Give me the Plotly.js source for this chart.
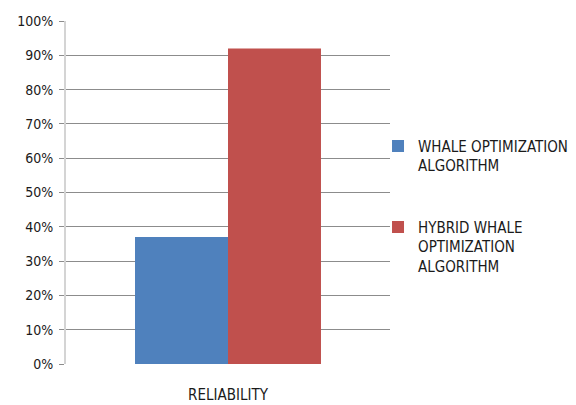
<!DOCTYPE html>
<html>
<head>
<meta charset="utf-8">
<script src="https://cdn.plot.ly/plotly-3.0.1.min.js"></script>
<style>html,body{margin:0;padding:0;background:#fff;}#chart{width:576px;height:405px;}</style>
</head>
<body>
<div id="chart"></div>
<script>
var categories = ["RELIABILITY"];
var seriesNames = ["WHALE OPTIMIZATION<br>ALGORITHM", "HYBRID WHALE<br>OPTIMIZATION<br>ALGORITHM"];
var whaleValues = [0.37];
var hybridValues = [0.92];
var seriesColors = ["#4F81BD", "#C0504D"];
var yTickVals = [0, 0.1, 0.2, 0.3, 0.4, 0.5, 0.6, 0.7, 0.8, 0.9, 1.0];
var yTickText = ["0%", "10%", "20%", "30%", "40%", "50%", "60%", "70%", "80%", "90%", "100%"];

var FONT = "DejaVu Sans Condensed, Liberation Sans Narrow, sans-serif";

var traces = [
  {type: "bar", x: categories, y: whaleValues, name: seriesNames[0], marker: {color: seriesColors[0]}, legendgroup: "a"},
  {type: "bar", x: categories, y: hybridValues, name: seriesNames[1], marker: {color: seriesColors[1]}, legendgroup: "b"}
];

var layout = {
  width: 576, height: 405,
  margin: {l: 66, r: 186, t: 21, b: 41, pad: 0, autoexpand: false},
  paper_bgcolor: "#fff", plot_bgcolor: "#fff",
  font: {family: FONT, color: "#1a1a1a", size: 15},
  barmode: "group",
  bargap: 0.426, bargroupgap: 0,
  showlegend: true,
  legend: {x: 0.963, xanchor: "left", y: 0.683, yanchor: "top", valign: "top", font: {family: FONT, size: 15, color: "#1a1a1a"}, tracegroupgap: 39, traceorder: "grouped", itemwidth: 30, bgcolor: "rgba(0,0,0,0)"},
  xaxis: {showgrid: false, zeroline: false, showline: false, ticks: "", ticklabelstandoff: 20, tickfont: {family: FONT, size: 15, color: "#1a1a1a"}},
  yaxis: {range: [0, 1], tickvals: yTickVals, ticktext: yTickText, showgrid: true, gridcolor: "#8c8c8c", gridwidth: 1, zeroline: false,
          showline: true, linecolor: "#d4d4d4", linewidth: 2, ticks: "outside", ticklen: 5, tickcolor: "#8c8c8c", tickwidth: 1,
          ticklabelstandoff: 3, tickfont: {family: FONT, size: 14, color: "#1a1a1a"}}
};

Plotly.newPlot("chart", traces, layout, {staticPlot: true, displayModeBar: false});
</script>
</body>
</html>
